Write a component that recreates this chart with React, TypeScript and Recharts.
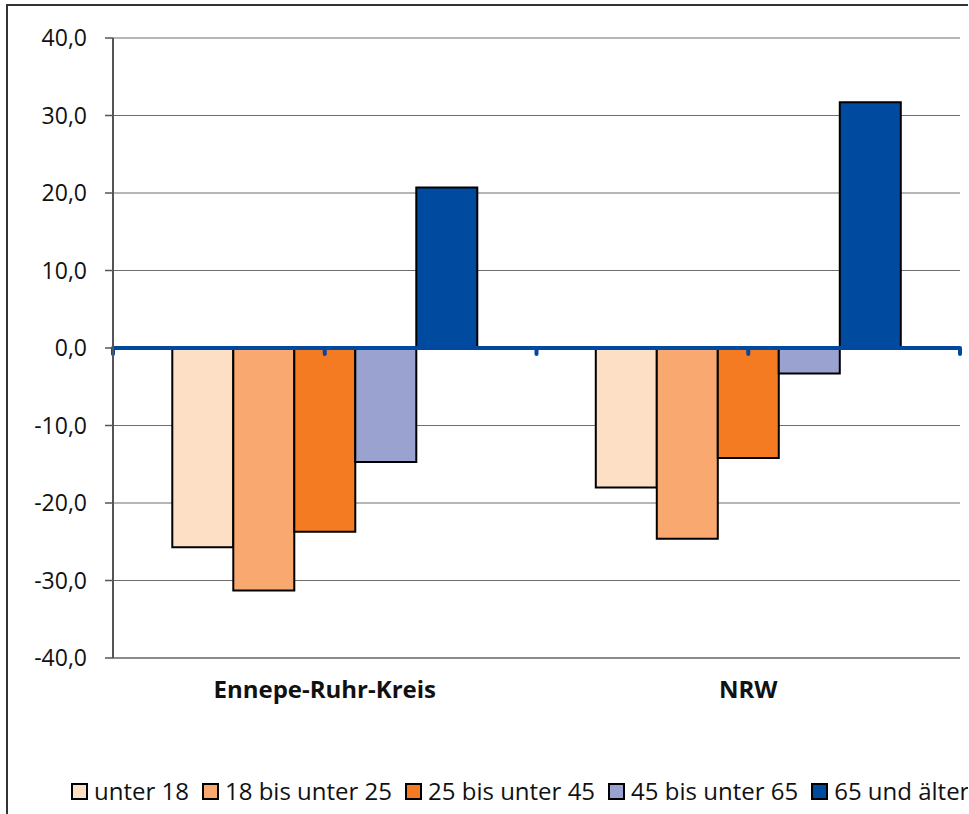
import { BarChart, Bar, XAxis, YAxis, CartesianGrid, Legend, ReferenceLine } from "recharts";

const regions = ["Ennepe-Ruhr-Kreis", "NRW"];
const groups = ["unter 18", "18 bis unter 25", "25 bis unter 45", "45 bis unter 65", "65 und älter"];
const colors = ["#FDDFC6", "#F9A86F", "#F47B22", "#9AA2D0", "#004B9F"];

const unter18 = [-25.7, -18.0];
const bis25 = [-31.3, -24.6];
const bis45 = [-23.7, -14.2];
const bis65 = [-14.7, -3.3];
const ab65 = [20.7, 31.7];

const yTicks = [-40, -30, -20, -10, 0, 10, 20, 30, 40];

const seriesValues = [unter18, bis25, bis45, bis65, ab65];

const data = regions.map((region, i) => {
  const row: Record<string, string | number> = { region };
  groups.forEach((g, k) => {
    row[g] = seriesValues[k][i];
  });
  return row;
});

const font = "'Open Sans', sans-serif";

function ZeroLine(props: any) {
  const { x1, x2, y1 } = props;
  const steps = [0, 1, 2, 3, 4];
  return (
    <g>
      <line x1={x1} x2={x2} y1={y1} y2={y1} stroke="#0048A0" strokeWidth={4} />
      {steps.map((s) => {
        const x = x1 + ((x2 - x1) * s) / 4;
        return (
          <line key={s} x1={x} x2={x} y1={y1} y2={y1 + 6} stroke="#0048A0" strokeWidth={4} strokeLinecap="round" />
        );
      })}
    </g>
  );
}

function renderLegend() {
  return (
    <div style={{ display: "flex", fontFamily: font, fontSize: 24, lineHeight: "30px", color: "#111", marginLeft: 63, whiteSpace: "nowrap" }}>
      {groups.map((g, k) => (
        <div key={g} style={{ display: "flex", alignItems: "center", marginRight: 13 }}>
          <span
            style={{
              display: "inline-block",
              width: 13,
              height: 13,
              background: colors[k],
              border: "2px solid #000",
              marginRight: 6,
            }}
          />
          <span>{g}</span>
        </div>
      ))}
    </div>
  );
}

export default function App() {
  return (
    <div
      style={{
        position: "absolute",
        left: 6,
        top: 4,
        width: 960,
        height: 808,
        borderLeft: "2px solid #333",
        borderTop: "2px solid #333",
        background: "#fff",
        overflow: "hidden",
      }}
    >
      <BarChart
        width={960}
        height={808}
        data={data}
        margin={{ top: 32, right: 8, left: 0, bottom: 56 }}
        barCategoryGap="14%"
        barGap={0}
      >
        <CartesianGrid vertical={false} stroke="#6e6e6e" strokeWidth={1.2} />
        <XAxis
          dataKey="region"
          axisLine={{ stroke: "#8a8a8a", strokeWidth: 2 }}
          tickLine={false}
          tickSize={0}
          tickMargin={23}
          height={70}
          tick={{ fontFamily: font, fontSize: 24, fontWeight: 700, fill: "#111" }}
        />
        <YAxis
          domain={[-40, 40]}
          ticks={yTicks}
          width={105}
          interval={0}
          tickFormatter={(v: number) => v.toFixed(1).replace(".", ",")}
          axisLine={{ stroke: "#555", strokeWidth: 2 }}
          tickLine={{ stroke: "#555", strokeWidth: 1.5 }}
          tickSize={8}
          tickMargin={18}
          tick={{ fontFamily: font, fontSize: 23, fill: "#111" }}
        />
        <YAxis
          yAxisId="right"
          orientation="right"
          domain={[-40, 40]}
          width={0}
          tick={false}
          tickLine={false}
          axisLine={{ stroke: "#8a8a8a", strokeWidth: 2 }}
        />
        {groups.map((g, k) => (
          <Bar key={g} dataKey={g} fill={colors[k]} stroke="#000" strokeWidth={2} isAnimationActive={false} />
        ))}
        <ReferenceLine y={0} shape={ZeroLine} />
        <Legend verticalAlign="bottom" align="left" content={renderLegend} wrapperStyle={{ bottom: 8, left: 0, height: 30 }} />
      </BarChart>
    </div>
  );
}
